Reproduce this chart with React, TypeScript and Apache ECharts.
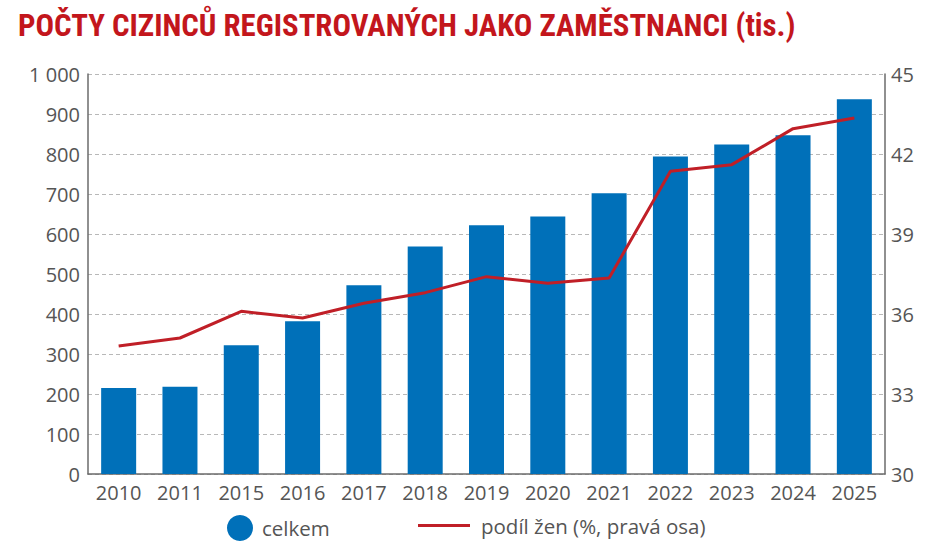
import React, { useEffect, useRef } from "react";
import * as echarts from "echarts";

const categories = ["2010", "2011", "2015", "2016", "2017", "2018", "2019", "2020", "2021", "2022", "2023", "2024", "2025"];
const totalValues = [215, 218, 322, 382, 472, 569, 622, 644, 702, 794, 824, 847, 937];
const womenShare = [34.8, 35.1, 36.1, 35.85, 36.4, 36.8, 37.4, 37.15, 37.35, 41.35, 41.6, 42.95, 43.35];
const leftTicks = { min: 0, max: 1000, interval: 100 };
const rightTicks = { min: 30, max: 45, interval: 3 };
const titleText = "POČTY CIZINCŮ REGISTROVANÝCH JAKO ZAMĚSTNANCI (tis.)";
const seriesNames = ["celkem", "podíl žen (%, pravá osa)"];

const FONT = "'Open Sans', 'Noto Sans', sans-serif";
const TEXT = "#555555";
const AXIS = "#6b6b6b";

export default function App() {
  const ref = useRef<HTMLDivElement>(null);
  useEffect(() => {
    if (!ref.current) return;
    const chart = echarts.init(ref.current, undefined, { renderer: "svg" });
    chart.setOption({
      animation: false,
      backgroundColor: "#ffffff",
      title: {
        text: titleText,
        left: 13,
        top: 5,
        textStyle: {
          fontFamily: "'Roboto Condensed', 'Open Sans', sans-serif",
          fontWeight: "bold",
          fontSize: 30.8,
          color: "#c3161c",
        },
      },
      legend: [
        {
          data: [seriesNames[0]],
          left: 227,
          top: 515,
          padding: 0,
          icon: "circle",
          itemWidth: 26,
          itemHeight: 26,
          itemGap: 0,
          textStyle: { fontFamily: FONT, fontSize: 20.5, color: TEXT, padding: [0, 0, 0, 4] },
        },
        {
          data: [seriesNames[1]],
          left: 418,
          top: 515,
          padding: 0,
          icon: "rect",
          itemWidth: 52,
          itemHeight: 3,
          itemGap: 0,
          textStyle: { fontFamily: FONT, fontSize: 20.5, color: TEXT, padding: [0, 0, 0, 6] },
        },
      ],
      grid: { left: 88, right: 53, top: 74, bottom: 75, containLabel: false },
      xAxis: {
        type: "category",
        data: categories,
        axisTick: { show: false },
        axisLine: { lineStyle: { color: AXIS, width: 1.5 } },
        axisLabel: { fontFamily: FONT, fontSize: 20, color: TEXT, margin: 8 },
      },
      yAxis: [
        {
          type: "value",
          min: leftTicks.min,
          max: leftTicks.max,
          interval: leftTicks.interval,
          axisLine: { show: true, lineStyle: { color: AXIS, width: 1.5 } },
          axisTick: { show: false },
          axisLabel: {
            fontFamily: FONT,
            fontSize: 20,
            color: TEXT,
            margin: 8,
            formatter: (v: number) => (v >= 1000 ? `${Math.floor(v / 1000)} ${String(v % 1000).padStart(3, "0")}` : String(v)),
          },
          splitLine: { show: true, lineStyle: { color: "#b8b8b8", width: 1, type: [4, 3] } },
        },
        {
          type: "value",
          min: rightTicks.min,
          max: rightTicks.max,
          interval: rightTicks.interval,
          position: "right",
          axisLine: { show: true, lineStyle: { color: AXIS, width: 1.5 } },
          axisTick: { show: false },
          axisLabel: { fontFamily: FONT, fontSize: 20, color: TEXT, margin: 6 },
          splitLine: { show: false },
        },
      ],
      series: [
        {
          name: seriesNames[0],
          type: "bar",
          data: totalValues,
          barWidth: 35,
          itemStyle: { color: "#0070b9" },
        },
        {
          name: seriesNames[1],
          type: "line",
          yAxisIndex: 1,
          data: womenShare,
          symbol: "none",
          itemStyle: { color: "#c01f27" },
          lineStyle: { color: "#c01f27", width: 3 },
        },
      ],
    });
    return () => chart.dispose();
  }, []);
  return <div ref={ref} style={{ position: "fixed", left: 0, top: 0, width: 938, height: 549 }} />;
}
